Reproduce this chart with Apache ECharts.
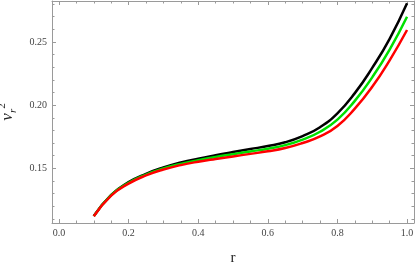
<!DOCTYPE html>
<html>
<head>
<meta charset="utf-8">
<script src="https://cdn.jsdelivr.net/npm/echarts@6/dist/echarts.min.js"></script>
<style>html,body{margin:0;padding:0;background:#fff;}#c{width:415px;height:267px;}</style>
</head>
<body>
<div id="c"></div>
<script>
const rValues = [0.10,0.15,0.20,0.25,0.30,0.35,0.40,0.45,0.50,0.55,0.60,0.65,0.70,0.75,0.80,0.85,0.90,0.95,1.00];
const blackValues = [0.1122,0.1290,0.1390,0.1456,0.1506,0.1545,0.1576,0.1603,0.1628,0.1652,0.1676,0.1706,0.1755,0.1825,0.1935,0.2095,0.2295,0.2525,0.2806];
const greenValues = [0.1121,0.1287,0.1384,0.1450,0.1498,0.1535,0.1564,0.1589,0.1611,0.1633,0.1655,0.1683,0.1727,0.1789,0.1885,0.2034,0.2220,0.2440,0.2700];
const redValues   = [0.1120,0.1283,0.1378,0.1443,0.1490,0.1525,0.1552,0.1574,0.1594,0.1614,0.1634,0.1660,0.1700,0.1752,0.1835,0.1972,0.2145,0.2355,0.2595];
const xMajorTicks = [0.0,0.2,0.4,0.6,0.8,1.0];
const xMinorTicks = [0.0,0.05,0.1,0.15,0.2,0.25,0.3,0.35,0.4,0.45,0.5,0.55,0.6,0.65,0.7,0.75,0.8,0.85,0.9,0.95,1.0];
const yMajorTicks = [0.15,0.20,0.25];
const yMinorTicks = [0.11,0.12,0.13,0.14,0.15,0.16,0.17,0.18,0.19,0.20,0.21,0.22,0.23,0.24,0.25,0.26,0.27,0.28];

const X_MIN = -0.02, X_MAX = 1.02, Y_MIN = 0.10665, Y_MAX = 0.28246;
const frameColor = '#9a9a9a';
const labelFont = "'Liberation Serif', 'DejaVu Serif', serif";

function mkAxis(kind, position, ticks, len, labels, line, extra) {
  const a = {
    type: 'value', position: position,
    min: kind === 'x' ? X_MIN : Y_MIN,
    max: kind === 'x' ? X_MAX : Y_MAX,
    splitLine: {show: false},
    axisLine: {show: line, onZero: false, lineStyle: {color: frameColor, width: 1}},
    axisTick: {show: true, inside: true, length: len, customValues: ticks, lineStyle: {color: frameColor, width: 1}},
    axisLabel: {show: labels, customValues: ticks, color: '#444', fontFamily: labelFont, fontSize: 10,
      margin: 5,
      formatter: v => kind === 'x' ? v.toFixed(1) : v.toFixed(2)}
  };
  return Object.assign(a, extra || {});
}

const chart = echarts.init(document.getElementById('c'), null, {renderer: 'canvas'});
const toPairs = vals => rValues.map((r, i) => [r, vals[i]]);

chart.setOption({
  animation: false,
  backgroundColor: '#fff',
  grid: {left: 52, right: 1, top: 1, bottom: 44, containLabel: false, outerBoundsMode: 'none'},
  xAxis: [
    mkAxis('x', 'bottom', xMajorTicks, 4, true, true, {
      name: 'r', nameLocation: 'middle', nameGap: 28,
      nameTextStyle: {fontFamily: labelFont, fontSize: 15, color: '#222'}
    }),
    mkAxis('x', 'bottom', xMinorTicks, 2.5, false, false),
    mkAxis('x', 'top', xMajorTicks, 4, false, true),
    mkAxis('x', 'top', xMinorTicks, 2.5, false, false)
  ],
  yAxis: [
    mkAxis('y', 'left', yMajorTicks, 4, true, true, {
      name: '{v|v}{r|r}{s|2}', nameLocation: 'middle', nameGap: 28, nameRotate: 90,
      nameTextStyle: {
        color: '#222',
        rich: {
          v: {fontFamily: labelFont, fontStyle: 'italic', fontSize: 17, lineHeight: 22, color: '#222', verticalAlign: 'middle'},
          r: {fontFamily: labelFont, fontStyle: 'italic', fontSize: 11, lineHeight: 11, color: '#222', verticalAlign: 'bottom'},
          s: {fontFamily: labelFont, fontSize: 11, lineHeight: 11, color: '#222', verticalAlign: 'top'}
        }
      }
    }),
    mkAxis('y', 'left', yMinorTicks, 2.5, false, false),
    mkAxis('y', 'right', yMajorTicks, 4, false, true),
    mkAxis('y', 'right', yMinorTicks, 2.5, false, false)
  ],
  series: [
    {type: 'line', name: 'black', data: toPairs(blackValues), smooth: 0.5, showSymbol: false,
     lineStyle: {color: '#000000', width: 2.5}, xAxisIndex: 0, yAxisIndex: 0, z: 2},
    {type: 'line', name: 'green', data: toPairs(greenValues), smooth: 0.5, showSymbol: false,
     lineStyle: {color: '#00e000', width: 2.5}, xAxisIndex: 0, yAxisIndex: 0, z: 3},
    {type: 'line', name: 'red', data: toPairs(redValues), smooth: 0.5, showSymbol: false,
     lineStyle: {color: '#ff0000', width: 2.5}, xAxisIndex: 0, yAxisIndex: 0, z: 4}
  ]
});
</script>
</body>
</html>
